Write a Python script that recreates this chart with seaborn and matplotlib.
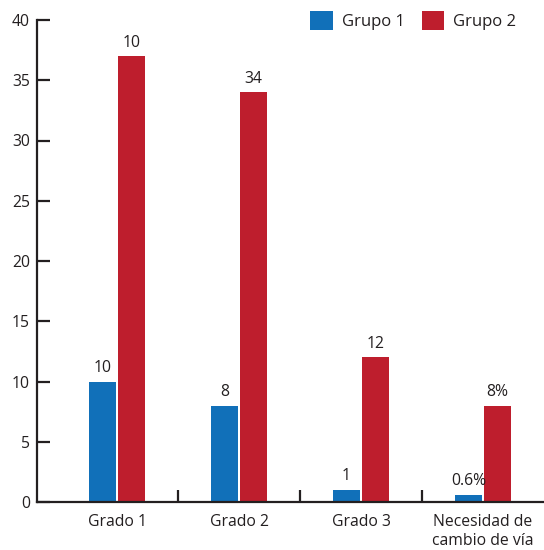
import pandas as pd
import seaborn as sns
import matplotlib.pyplot as plt

categories = ["Grado 1", "Grado 2", "Grado 3", "Necesidad de\ncambio de vía"]
grupo1 = [10, 8, 1, 0.6]
grupo2 = [37, 34, 12, 8]
labels1 = ["10", "8", "1", "0.6%"]
labels2 = ["10", "34", "12", "8%"]
series = ["Grupo 1", "Grupo 2"]
colors = ["#1170b9", "#be1e2d"]

df = pd.DataFrame({
    "cat": categories * 2,
    "val": grupo1 + grupo2,
    "grupo": [series[0]] * 4 + [series[1]] * 4,
})

sns.set_theme(style="white")
plt.rcParams["font.family"] = ["Open Sans", "DejaVu Sans"]
ink = "#231f20"
fs = 11.3

fig = plt.figure(figsize=(5.44, 5.50), dpi=100)
ax = fig.add_axes([37 / 544, 1 - 502 / 550, 1 - 37 / 544, 482 / 550])
sns.barplot(data=df, x="cat", y="val", hue="grupo", palette=colors,
            width=0.475, gap=0.07, saturation=1, linewidth=0, ax=ax)

for cont, labs in zip(ax.containers, [labels1, labels2]):
    ax.bar_label(cont, labels=labs, padding=4, fontsize=fs, color=ink)

ax.set_ylim(0, 40)
ax.set_xlim(-0.656, 3.5)
ax.set_yticks(range(0, 41, 5))
ax.set_xlabel("")
ax.set_ylabel("")
sns.despine(ax=ax)
for s in ["left", "bottom"]:
    ax.spines[s].set_linewidth(1.6)
    ax.spines[s].set_color(ink)
ax.tick_params(axis="y", direction="in", length=9, width=1.6, color=ink,
               labelsize=fs, labelcolor=ink, pad=5, left=True)
ax.tick_params(axis="x", which="major", length=0, labelsize=fs,
               labelcolor=ink, pad=9)
ax.set_xticks([0.5, 1.5, 2.5], minor=True)
ax.tick_params(axis="x", which="minor", direction="in", length=9,
               width=1.6, color=ink, bottom=True)

ax.legend(loc="upper right", bbox_to_anchor=(0.975, 1.05), ncol=2,
          frameon=False, handlelength=1.35, handleheight=1.35,
          columnspacing=1.0, handletextpad=0.55, fontsize=fs + 0.7,
          labelcolor=ink)

fig.savefig("out.png", dpi=100)
